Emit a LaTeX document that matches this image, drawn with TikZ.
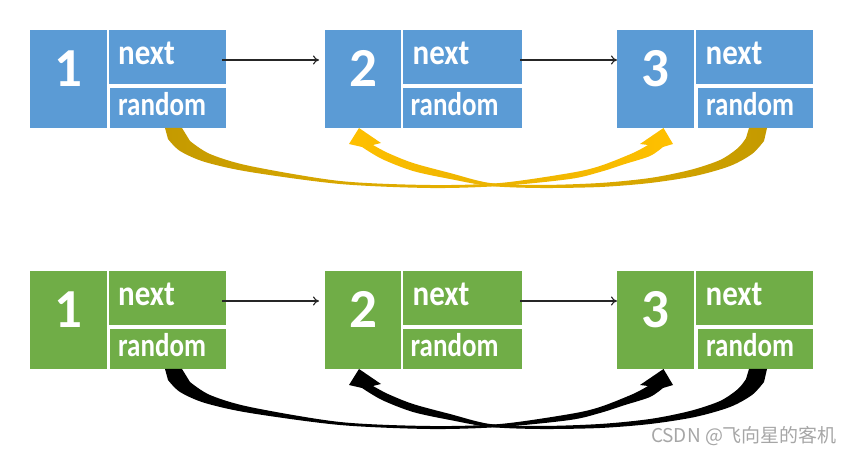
\documentclass[tikz,border=0pt]{standalone}
\usepackage{fontspec}
\usepackage{graphicx}
\setmainfont{Carlito}
\newfontfamily\cjkfont{Noto Sans CJK SC}
\usetikzlibrary{arrows.meta,calc}
\definecolor{cellblue}{HTML}{5B9BD5}
\definecolor{cellgreen}{HTML}{70AD47}
\definecolor{golddark}{HTML}{C49A00}
\definecolor{goldlight}{HTML}{FFC000}
\definecolor{wmgray}{HTML}{A6A6A6}
\begin{document}
\begin{tikzpicture}[x=1pt,y=-1pt,
  cellbox/.style={fill=#1, draw=none, inner sep=0pt, outer sep=0pt},
  numtxt/.style={text=white, font=\fontsize{55}{55}\selectfont\bfseries, inner sep=0pt, anchor=base},
  nexttxt/.style={text=white, font=\fontsize{31}{31}\selectfont\bfseries, inner sep=0pt, anchor=base west},
  randtxt/.style={text=white, font=\fontsize{27}{27}\selectfont\bfseries, inner sep=0pt, anchor=base west},
  ptr/.style={draw=black!85, line width=1.1pt, -{To[length=6pt,width=9pt]}},
  banda1/.style={left color=golddark, right color=goldlight},
  banda2/.style={left color=goldlight, right color=golddark},
  bandb1/.style={fill=black},
  bandb2/.style={fill=black},
  wm/.style={text=wmgray, font=\cjkfont\fontsize{19}{19}\selectfont, inner sep=0pt}]
\useasboundingbox (0,0) rectangle (855,454);

% cells and their texts
\foreach \r/\dy/\col in {a/0/cellblue, b/241/cellgreen}{
  \foreach \i/\nl/\nr/\xl/\rl/\rr in {1/30/107/108.5/110/226, 2/325/401/403/402.5/522, 3/617/694/696/698/813}{
    \node[cellbox=\col, minimum width={(\nr-\nl)*1pt}, minimum height=98pt] (n\r\i) at ({(\nl+\nr)/2},{79+\dy}) {};
    \node[cellbox=\col, minimum width={(\rr-\xl)*1pt}, minimum height=54pt] (x\r\i) at ({(\xl+\rr)/2},{57+\dy}) {};
    \node[cellbox=\col, minimum width={(\rr-\rl)*1pt}, minimum height=40pt] (r\r\i) at ({(\rl+\rr)/2},{108+\dy}) {};
    \node[numtxt] (d\r\i) at ({(\nl+\nr)/2},{87+\dy}) {\i};
    \node[nexttxt] (tx\r\i) at ({\xl+9.5},{65+\dy}) {\scalebox{1}[1.15]{next}};
    \node[randtxt] (tr\r\i) at ({\rl+8},{116+\dy}) {\scalebox{1}[1.22]{random}};
  }
}

% next pointers
\foreach \r in {a,b}{
  \draw[ptr, shorten >=6pt] ([shift={(-4pt,-3pt)}]x\r1.east) coordinate (p\r1) -- (p\r1 -| n\r2.west);
  \draw[ptr] ([shift={(-2pt,-3pt)}]x\r2.east) coordinate (p\r2) -- (p\r2 -| n\r3.west);
}

% random pointers (tapered curved arrows)
\foreach \r/\dy in {a/0, b/241}{
  \coordinate (c1o\r) at ([xshift=-3pt]r\r1.south);
  \coordinate (c1i\r) at ([xshift=14pt]r\r1.south);
  \coordinate (c1t\r) at ([xshift=8pt]n\r3.south);
  \coordinate (c2o\r) at ([xshift=11.5pt]r\r3.south);
  \coordinate (c2i\r) at ([xshift=-6.5pt]r\r3.south);
  \coordinate (c2t\r) at ([xshift=-4pt]n\r2.south);
  \begin{scope}[yshift=-\dy pt]
    \path[band\r1] (c1o\r)
      -- plot[smooth] coordinates {(168,139) (180,151) (205,162) (250,172) (340,184) (430,188) (500,186) (570,179) (600,172) (625,164) (650,156) (663,147)}
      -- (673,144) -- (c1t\r) -- (640,144)
      -- plot[smooth] coordinates {(648,145) (633,153) (600,166) (570,173) (500,183) (430,185) (340,181) (250,166) (210,154) (190,141)}
      -- (c1i\r) -- cycle;
    \path[band\r2] (c2o\r)
      -- plot[smooth] coordinates {(764,141) (752,154) (730,166) (695,176) (650,183) (600,187) (540,188) (490,186) (450,179) (413,171) (382,159) (362,147)}
      -- (349,144) -- (c2t\r) -- (381,143)
      -- plot[smooth] coordinates {(373,145) (388,153) (413,163) (450,173) (490,183) (540,185) (600,183) (650,178) (690,170) (720,160) (738,148) (746,138)}
      -- (c2i\r) -- cycle;
  \end{scope}
}

\node[wm] (wm) at (744,436) {CSDN @飞向星的客机};
\end{tikzpicture}
\end{document}
